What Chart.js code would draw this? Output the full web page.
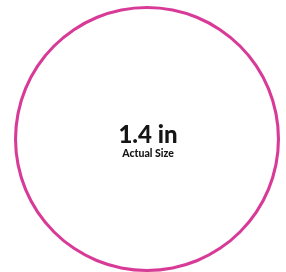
<!DOCTYPE html>
<html>
<head>
<meta charset="utf-8">
<script src="https://cdn.jsdelivr.net/npm/chart.js@4"></script>
<style>
  html, body { margin: 0; padding: 0; background: #fff; }
  body { width: 286px; height: 272px; position: relative; overflow: hidden; }
  #wrap { position: absolute; left: 14px; top: 6px; width: 266px; height: 266px; }
</style>
</head>
<body>
<div id="wrap"><canvas id="size-chart"></canvas></div>
<script>
const labels = ['Actual Size'];
const values = [1];
const sizeText = '1.4 in';
const subText = 'Actual Size';

// writes the size in the middle of the ring
const centerText = {
  id: 'centerText',
  afterDraw(chart) {
    const meta = chart.getDatasetMeta(0).data[0];
    const ctx = chart.ctx;
    ctx.save();
    ctx.fillStyle = '#151515';
    ctx.textAlign = 'center';
    ctx.textBaseline = 'alphabetic';
    ctx.font = '900 24px Lato';
    ctx.fillText(sizeText, meta.x + 1, meta.y + 4);
    ctx.font = '900 10.5px Lato';
    ctx.fillText(subText, meta.x + 1, meta.y + 18);
    ctx.restore();
  }
};

new Chart(
  document.getElementById('size-chart'),
  {
    type: 'doughnut',
    data: {
      labels: labels,
      datasets: [
        {
          data: values,
          backgroundColor: ['#d83b97'],
          borderWidth: 0,
          hoverOffset: 0
        }
      ]
    },
    options: {
      responsive: true,
      maintainAspectRatio: false,
      animation: false,
      cutout: '97.7%',
      layout: { padding: 0 },
      plugins: {
        legend: { display: false },
        tooltip: { enabled: false }
      }
    },
    plugins: [centerText]
  }
);
</script>
</body>
</html>
